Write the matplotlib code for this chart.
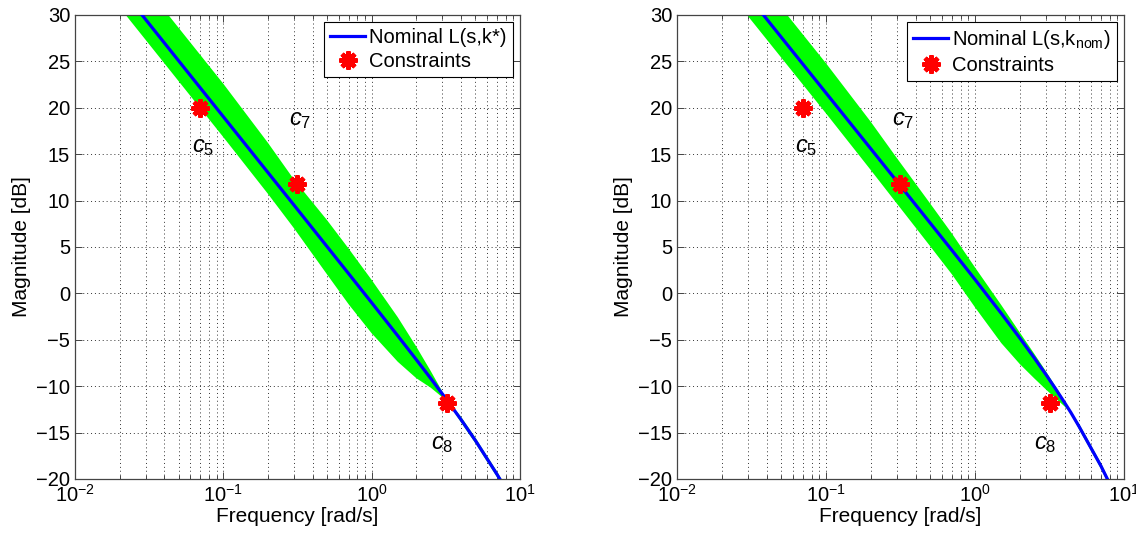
import matplotlib
matplotlib.use("Agg")
import matplotlib.pyplot as plt
from matplotlib.ticker import LogLocator, FixedLocator, NullFormatter

plt.rcParams['font.family'] = ['Liberation Sans', 'DejaVu Sans']
plt.rcParams['mathtext.fontset'] = 'custom'
plt.rcParams['mathtext.rm'] = 'Liberation Sans'
plt.rcParams['mathtext.it'] = 'Liberation Sans:italic'
plt.rcParams['mathtext.default'] = 'regular'

# ---------------- data ----------------
# Left panel: optimised controller k*
L_freq = [0.02, 0.03, 0.05, 0.1, 0.2, 0.3, 0.5, 0.7, 1.0, 1.5, 2.0, 2.5,
          3.0, 3.2, 4.0, 5.0, 7.0, 8.0]
L_nom_mag = [33.02, 29.50, 25.06, 19.04, 13.02, 9.50, 5.05, 2.12, -1.00,
             -4.57, -7.14, -9.16, -10.85, -11.45, -13.59, -15.84, -19.50, -21.05]
L_band_upper = [36.57, 33.05, 28.61, 22.59, 16.22, 12.25, 7.90, 4.82, 1.45,
                -2.57, -5.74, -8.36, -10.60, -11.35, -13.29, -15.54, -19.20, -20.75]
L_band_lower = [30.82, 27.30, 22.86, 16.84, 10.72, 7.00, 2.05, -1.18, -4.30,
                -7.37, -9.14, -10.16, -11.20, -11.55, -13.89, -16.14, -19.80, -21.35]

# Right panel: nominal controller k_nom
R_freq = [0.02, 0.03, 0.05, 0.1, 0.2, 0.3, 0.5, 0.7, 1.0, 1.5, 2.0, 2.5,
          3.0, 3.5, 4.0, 4.4, 5.0, 7.0, 8.0]
R_nom_mag = [35.58, 32.06, 27.62, 21.60, 15.58, 12.05, 7.59, 4.65, 1.50,
             -2.15, -4.82, -6.96, -8.77, -10.36, -11.79, -12.84, -14.36, -18.59, -20.48]
R_band_upper = [38.78, 35.26, 30.82, 24.80, 18.48, 14.55, 9.69, 6.45, 2.80,
                -1.25, -4.22, -6.51, -8.42, -10.11, -11.64, -12.74, -14.06, -18.29, -20.18]
R_band_lower = [33.38, 29.86, 25.42, 19.40, 13.28, 9.65, 5.09, 2.05, -1.50,
                -5.35, -7.62, -9.16, -10.37, -11.36, -12.19, -12.94, -14.66, -18.89, -20.78]

# Constraints
con_freq = [0.07, 0.315, 3.2]
con_mag = [20, 11.8, -11.8]
con_names = ['5', '7', '8']
con_label_freq = [0.073, 0.329, 2.97]
con_label_mag = [15.8, 18.7, -16.2]

yticks = [-20, -15, -10, -5, 0, 5, 10, 15, 20, 25, 30]
xticks = [0.01, 0.1, 1, 10]

legend_labels = [['Nominal L(s,k*)', 'Constraints'],
                 [r'Nominal L(s,k$_{\mathrm{nom}}$)', 'Constraints']]

panels = [
    (L_freq, L_nom_mag, L_band_upper, L_band_lower),
    (R_freq, R_nom_mag, R_band_upper, R_band_lower),
]

# ---------------- figure ----------------
fig = plt.figure(figsize=(11.36, 5.35), dpi=100)
axes_rects = [[75/1136, 56/535, 445/1136, 464/535],
              [677/1136, 56/535, 447/1136, 464/535]]

for i, (rect, (fr, nom, bup, blo)) in enumerate(zip(axes_rects, panels)):
    ax = fig.add_axes(rect)
    ax.set_xscale('log')
    ax.fill_between(fr, blo, bup, color='#00ff00', linewidth=0, zorder=2)
    nl, = ax.plot(fr, nom, color='#0000ff', linewidth=2.3, zorder=3)
    cl, = ax.plot(con_freq, con_mag, linestyle='none', marker=(8, 2, 0),
                  markersize=13, markeredgewidth=3.2, color='#ff0000',
                  zorder=4)
    for f, m, name in zip(con_label_freq, con_label_mag, con_names):
        ax.text(f, m, r'$\mathit{c}_{\mathit{' + name + '}}$', fontsize=17,
                ha='center', va='center', zorder=5)

    ax.set_xlim(0.01, 10)
    ax.set_ylim(-20, 30)
    ax.xaxis.set_major_locator(FixedLocator(xticks))
    ax.xaxis.set_minor_locator(LogLocator(base=10, subs=range(2, 10)))
    ax.xaxis.set_minor_formatter(NullFormatter())
    ax.yaxis.set_major_locator(FixedLocator(yticks))
    ax.grid(True, which='major', axis='both', linestyle=(0, (1, 3)),
            color='#333333', linewidth=0.7)
    ax.grid(True, which='minor', axis='x', linestyle=(0, (1, 3)),
            color='#333333', linewidth=0.7)
    ax.tick_params(which='both', direction='in', top=True, right=True,
                   labelsize=14.5, color='#444444', width=0.7)
    ax.tick_params(which='major', length=5)
    ax.tick_params(which='minor', length=3)
    for s in ax.spines.values():
        s.set_color('#444444')
        s.set_linewidth(0.9)
    ax.set_xlabel('Frequency [rad/s]', fontsize=15, labelpad=1)
    ax.set_ylabel('Magnitude [dB]', fontsize=15, labelpad=4)

    leg = ax.legend([nl, cl], legend_labels[i], loc='upper right',
                    fontsize=14.5, frameon=True, fancybox=False,
                    edgecolor='black', framealpha=1, borderaxespad=0.35,
                    handlelength=1.75, handletextpad=0.2,
                    borderpad=0.3, labelspacing=0.25)
    leg.get_frame().set_linewidth(0.8)
    leg.set_zorder(10)

fig.savefig('out.png', dpi=100)
